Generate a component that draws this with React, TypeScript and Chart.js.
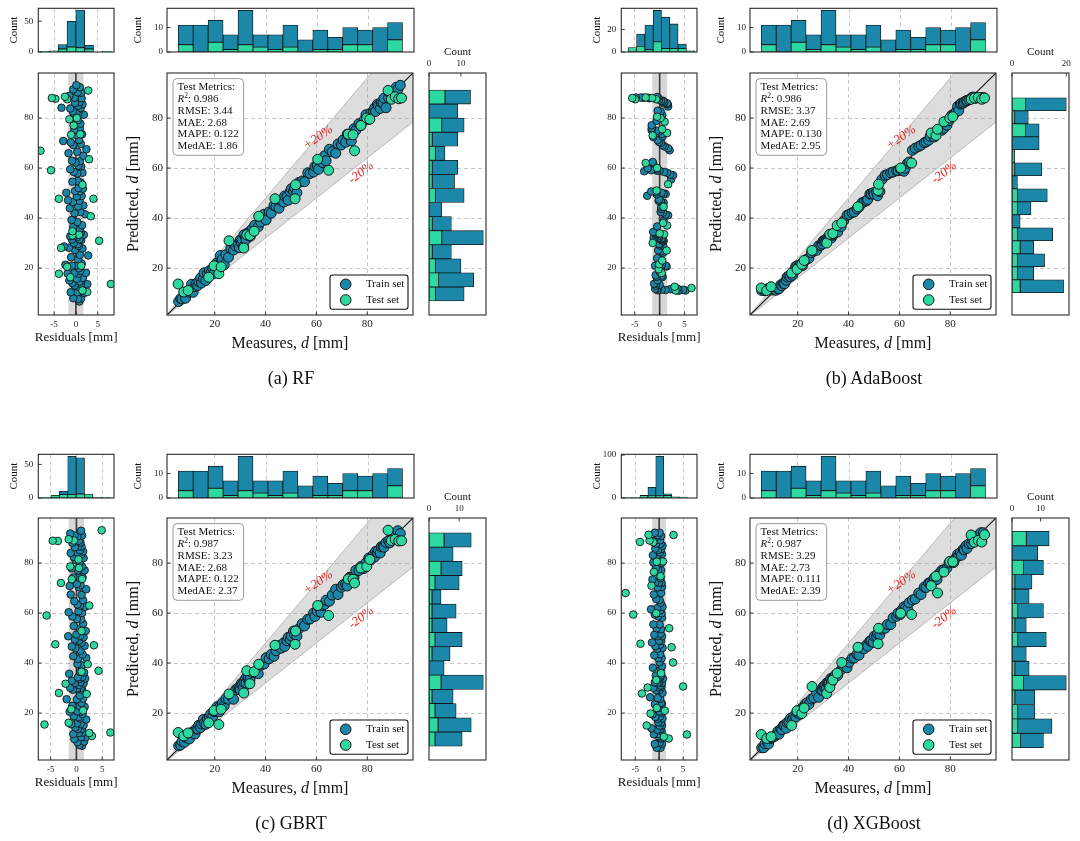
import React, { useEffect, useRef } from 'react';
import { Chart, registerables } from 'chart.js';

Chart.register(...registerables);

// ---------------- data ----------------

const modelNames = ['RF', 'AdaBoost', 'GBRT', 'XGBoost'];
const panelLetters = ['a', 'b', 'c', 'd'];

// metrics printed in the boxes
const r2Values = ['0.986', '0.986', '0.987', '0.987'];
const rmseValues = ['3.44', '3.37', '3.23', '3.29'];
const maeValues = ['2.68', '2.69', '2.68', '2.73'];
const mapeValues = ['0.122', '0.130', '0.122', '0.111'];
const medaeValues = ['1.86', '2.95', '2.37', '2.39'];

// measured d [mm], same split in every panel
const trainMeasured = [
  5.8, 6.6, 7.1, 8.1, 8.5, 9.4, 10.0, 10.9,
  11.5, 12.2, 12.6, 13.3, 13.7, 14.4, 14.8, 15.5, 15.8, 16.5, 17.1,
  17.9, 18.4, 19.2, 19.7, 20.5, 20.9, 21.8, 22.2, 23.0,
  23.7, 24.4, 25.4, 26.3, 27.4, 28.2,
  29.1, 29.7, 30.0, 30.5, 30.7, 31.3, 31.5, 32.1, 32.3, 33.0, 33.2, 33.8, 34.0, 34.7,
  35.7, 37.1, 38.1, 39.4, 40.2,
  41.4, 42.2, 43.3, 44.1, 45.3, 46.1,
  47.1, 47.5, 48.4, 48.9, 49.7, 50.1, 51.0, 51.4, 52.3,
  53.1, 54.4, 55.3, 56.6, 57.5,
  58.9, 59.4, 60.3, 60.8, 61.8, 62.3, 63.2, 63.8,
  65.1, 66.2, 67.6, 68.5, 69.8,
  70.5, 71.5, 72.1, 73.1, 73.7, 74.8, 75.5,
  76.7, 77.5, 78.7, 79.5, 80.6, 81.4,
  82.4, 82.9, 83.3, 84.0, 84.4, 85.1, 85.5, 86.2, 86.6, 87.4,
  88.4, 88.9, 89.9, 90.4, 91.4, 92.0, 93.0,
];
const testMeasured = [
  5.6, 7.8, 9.5, 17.6, 19.7, 21.6, 22.5, 25.6, 31.4, 32.6, 33.8, 35.5, 37.3, 43.7, 51.6,
  51.8, 60.5, 64.8, 72.5, 74.4, 75.0, 77.5, 79.8, 81.0, 88.2, 89.5, 91.0, 92.4, 93.5,
];

// residuals (predicted - measured)
const rfTrainRes = [
  0.8, 1.2, 0.5, 1.9, -0.6, 1.4, 0.3, 2.6,
  -1.2, 0.4, 1.1, -0.3, 0.9, 1.6, -0.8, 0.2, 2.3, -1.5, 0.6,
  1.0, -0.4, 0.7, -1.9, 1.3, 0.1, -0.9, 2.8, 0.5,
  -2.4, 0.9, -1.1, 1.5, -0.2, 0.6,
  0.4, -1.6, 1.2, -0.5, 0.8, -2.7, 1.8, 0.2, -0.9, 1.1, -0.3, 0.7, -1.3, 0.9,
  1.4, -0.6, 0.3, 2.1, -1.0,
  1.0, -0.3, 1.7, 0.5, -1.4, 0.8,
  -0.7, 1.3, 0.2, -1.8, 0.9, 1.6, -0.2, 0.6, -2.2,
  1.1, 0.4, -0.8, 1.5, 0.3,
  -0.5, 1.2, 0.6, -1.3, 0.9, -0.1, 1.7, -0.9,
  2.4, 0.3, -1.7, 1.1, -0.6,
  0.7, -1.2, 1.4, 0.1, -2.9, 0.9, -0.4,
  1.0, -0.5, 0.4, 1.8, -1.1, 0.6,
  0.2, 1.1, -0.7, 1.5, 0.5, -1.3, 0.8, -0.2, 1.3, -3.3,
  -0.3, 1.2, 0.4, -1.5, 0.9, -0.6, 0.1,
];
const rfTestRes = [
  8.0, 2.6, 1.5, -1.3, 1.2, -3.9, -2.0, 5.3, -3.4, 0.7, -0.8, -0.8, 3.4, 4.0, -3.9,
  1.5, 3.0, -5.7, 1.0, -1.1, -8.1, -0.5, 0.2, -1.5, 2.8, -2.0, -2.5, -4.7, -5.5,
];

const adaTrainRes = [
  5.2, 4.7, 3.8, 3.6, 2.9, 2.1, 1.2, 0.4,
  -0.4, -0.5, -0.9, 0.0, -0.8, -0.7, -1.1, -0.4, 0.6, 0.4, -0.6,
  -0.8, 0.0, 1.4, 1.2, 0.4, 0.4, -0.9, 0.2, 0.1,
  -0.1, -0.5, 0.7, 0.4, -0.3, 0.7,
  0.0, -0.1, 0.8, 0.6, 0.4, 0.3, 0.4, -0.2, -0.2, -0.4, -1.2, -0.7, -0.5, -0.6,
  -1.3, -0.5, 0.8, 1.7, 1.2,
  0.7, 0.2, 0.3, 0.3, 0.8, 0.3,
  -0.2, -0.1, 1.2, 0.8, 0.4, -0.6, -0.7, -2.5, -1.7,
  2.3, 2.7, 2.1, 1.5, 0.9,
  0.0, -0.5, -0.7, -1.7, -3.1, -2.4, -1.3, -1.4,
  2.0, 1.7, 1.0, 0.6, 0.3,
  -0.1, -0.4, 0.6, 0.5, -1.3, -0.2, -0.6,
  -1.6, -1.6, -1.6, -0.6, 0.5, 0.0,
  0.2, 1.7, -0.4, 1.6, 1.5, 0.8, 0.9, 0.7, 0.3, -0.1,
  -0.3, -0.5, -2.0, -2.3, -3.3, -3.8, -4.8,
];
const adaTestRes = [
  6.4, 3.2, 3.0, 0.4, -0.2, -0.1, 0.5, 1.4, -1.4, 0.9, 0.0, 1.5, 0.7, 0.8, -0.6,
  1.7, -0.5, -2.8, 1.5, -1.4, 0.5, 1.0, 0.2, -0.5, -0.7, -1.5, -2.8, -4.9, -5.5,
];

const gbrtTrainRes = [
  1.1, 0.6, 1.5, 0.2, 1.8, 0.9, -0.4, 1.3,
  0.5, -0.6, 1.0, 0.3, 1.4, -0.2, 0.8, 1.9, 0.1, -1.0, 0.7,
  0.4, 1.2, -0.5, 0.9, 0.2, 1.6, -1.3, 0.6, 1.0,
  -0.8, 1.3, 0.1, 0.7, -1.9, 1.1,
  0.9, 0.2, -0.7, 1.4, 0.5, -1.2, 0.8, 1.7, -0.3, 0.6, 1.1, -0.9, 0.3, 1.5,
  0.7, -1.4, 1.0, 0.2, 1.9,
  0.3, 1.2, -0.6, 0.8, 1.6, -0.2,
  1.0, -0.9, 0.5, 1.4, -0.3, 0.7, 1.8, 0.0, -1.6,
  0.6, 1.3, -0.5, 0.9, 0.1,
  1.1, -0.8, 0.4, 1.7, -1.5, 0.7, 0.2, 1.3,
  -0.4, 1.0, 1.9, -1.1, 0.5,
  0.8, 0.1, -1.3, 1.2, 0.5, -0.6, 1.6,
  0.3, 1.1, -0.9, 0.6, 1.4, -0.2,
  0.9, -0.5, 1.3, 0.2, 0.7, -1.1, 1.0, 0.4, -0.3, 0.8,
  0.5, -0.8, 1.1, 0.2, -0.4, 0.9, -1.2,
];
const gbrtTestRes = [
  6.6, 3.0, 2.5, -1.5, 1.3, -6.2, -1.0, 2.0, -3.4, 4.3, -2.1, 1.0, 2.2, 3.4, -4.1,
  1.0, 2.5, -5.8, 1.1, -0.9, -3.0, 0.5, -1.2, 0.4, 4.9, -0.5, -1.5, -3.6, -4.6,
];

const xgbTrainRes = [
  0.3, -0.5, 0.6, 0.1, -0.9, 0.4, 0.2, -0.2,
  0.0, 0.5, -1.1, 0.3, -0.4, 0.6, 0.1, -1.6, 0.4, -0.2, 0.7,
  -0.3, 0.2, -0.8, 0.5, 0.1, -1.4, 0.3, -0.1, 0.6,
  0.4, -0.9, 0.2, -0.3, 0.7, -1.9,
  0.1, -0.6, 0.5, -0.2, 0.3, -1.2, 0.6, 0.0, -0.4, 0.8, -0.9, 0.2, -0.1, 0.4,
  -0.7, 0.3, 0.6, -1.3, 0.1,
  0.5, -0.2, 0.2, -1.0, 0.7, -0.4,
  0.2, -0.8, 0.4, 0.0, -1.5, 0.6, -0.3, 0.3, -1.0,
  0.4, -0.5, 0.1, -1.2, 0.6,
  -0.2, 0.5, -0.9, 0.2, 0.7, -0.4, -1.7, 0.3,
  0.1, -0.6, 0.4, -1.1, 0.6,
  -0.3, 0.5, 0.0, -0.8, 0.3, -1.4, 0.2,
  0.4, -0.2, -0.7, 0.5, 0.1, -1.2,
  -0.1, 0.6, -0.5, 0.2, -1.3, 0.4, -0.2, 0.7, -0.8, 0.3,
  -0.6, 0.2, -1.1, 0.4, -0.3, 0.1, -0.9,
];
const xgbTestRes = [
  5.8, 2.0, 1.0, -2.6, 1.2, -1.8, -0.5, 5.0, -3.6, -2.4, -0.6, 0.4, 2.9, 2.6, -3.9,
  2.1, -0.6, -5.4, -1.6, 0.3, -7.0, -1.1, 0.8, -0.5, 3.0, -1.2, -2.0, -4.0, -2.2,
];

// top strip: histogram of measured values (same in all panels)
const measBinStart = 5.6;
const measBinWidth = 5.86;
const measTrainCounts = [8, 11, 9, 6, 14, 5, 6, 9, 5, 8, 5, 7, 6, 10, 7];
const measTestCounts = [3, 0, 4, 1, 3, 2, 1, 2, 0, 1, 1, 3, 3, 0, 5];

// right strip: histogram of predictions (bottom to top)
const predBinStart = [6.8, 10.1, 6.7, 6.1];
const predBinWidth = [5.627, 5.2, 5.69, 5.77];
const rfPredTrain = [9, 11, 8, 6, 13, 6, 4, 9, 7, 8, 3, 8, 7, 9, 8];
const rfPredTest = [2, 3, 2, 1, 4, 1, 0, 2, 1, 1, 2, 1, 4, 0, 5];
const adaPredTrain = [16, 6, 10, 5, 13, 3, 5, 11, 2, 10, 0, 10, 5, 5, 15];
const adaPredTest = [3, 2, 2, 3, 2, 0, 2, 2, 0, 1, 1, 0, 5, 1, 5];
const gbrtPredTrain = [9, 11, 7, 7, 14, 5, 6, 9, 5, 8, 3, 8, 7, 8, 9];
const gbrtPredTest = [2, 3, 2, 1, 4, 0, 1, 2, 1, 1, 1, 2, 4, 0, 5];
const xgbPredTrain = [8, 12, 6, 7, 15, 5, 5, 10, 4, 9, 5, 6, 7, 9, 8];
const xgbPredTest = [3, 2, 2, 1, 4, 1, 0, 2, 1, 2, 1, 1, 4, 0, 5];

// top-left strip: histogram of residuals
const resBinStart = [-8.1, -6.3, -6.57, -7.3];
const resBinWidth = [2.02, 1.667, 1.63, 1.65];
const rfResTrain = [0, 0, 7, 42, 61, 6, 0, 0];
const rfResTest = [1, 2, 5, 8, 7, 5, 0, 1];
const adaResTrain = [0, 11, 22, 28, 28, 22, 4, 1];
const adaResTest = [4, 5, 2, 9, 3, 3, 3, 0];
const gbrtResTrain = [0, 0, 5, 57, 54, 0, 0, 0];
const gbrtResTest = [1, 4, 5, 5, 6, 6, 1, 1];
const xgbResTrain = [0, 0, 0, 20, 92, 4, 0, 0];
const xgbResTest = [1, 1, 6, 5, 5, 6, 3, 2];

// half width of the grey band in the residual panels
const residBand = [1.75, 1.5, 1.5, 1.45];

// axis limits and ticks
const mmRange = [1.2, 98];
const mmTicks = [20, 40, 60, 80];
const residRange = [[-8.6, 8.7], [-7.7, 7.5], [-7.4, 7.3], [-7.9, 7.9]];
const residTicks = [-5, 0, 5];
const resCountMax = [71, 38.9, 65.1, 101.9];
const resCountTicks = [[0, 50], [0, 20], [0, 50], [0, 100]];
const predCountMax = [17.85, 21, 18.9, 19.95];
const predCountTicks = [[0, 10], [0, 20], [0, 10], [0, 10]];
const measCountMax = 17.85;
const measCountTicks = [0, 10];

const trainRes = [rfTrainRes, adaTrainRes, gbrtTrainRes, xgbTrainRes];
const testRes = [rfTestRes, adaTestRes, gbrtTestRes, xgbTestRes];
const predTrain = [rfPredTrain, adaPredTrain, gbrtPredTrain, xgbPredTrain];
const predTest = [rfPredTest, adaPredTest, gbrtPredTest, xgbPredTest];
const resTrain = [rfResTrain, adaResTrain, gbrtResTrain, xgbResTrain];
const resTest = [rfResTest, adaResTest, gbrtResTest, xgbResTest];

// ---------------- style ----------------

const SERIF = '"Liberation Serif", "Times New Roman", Times, serif';
const BLUE = '#1b87a9';
const GREEN = '#2ed9a1';
const EDGE = '#141414';
const FRAME = '#2a2a2a';
const TICK_LEN = 3.5;
const PCT_NOTES = [
  { text: '+20%', x: 60.7, y: 72.2, angle: -35 },
  { text: '-20%', x: 77.6, y: 58.1, angle: -38 },
];

// panel (a) geometry: chart area box + canvas margins [left, top, right, bottom]
const PANEL_ORIGINS = [[0, 0], [583, 0], [0, 445.5], [583, 445.5]];
const GEO: any = {
  resHist: { box: { x: 38.3, y: 8.3, w: 76, h: 43.4 }, m: [38.3, 8.3, 5, 5] },
  resScatter: { box: { x: 38.3, y: 72.7, w: 76, h: 242.3 }, m: [38.3, 6, 5, 36] },
  topHist: { box: { x: 166.7, y: 8.3, w: 246.6, h: 43.4 }, m: [50, 8.3, 5, 5] },
  main: { box: { x: 166.7, y: 72.7, w: 246.6, h: 242.3 }, m: [50, 6, 5, 42] },
  sideHist: { box: { x: 429.3, y: 72.7, w: 57.4, h: 242.3 }, m: [5, 34, 5, 5] },
};

// ---------------- helpers ----------------

type Part = { t: string; italic?: boolean; sup?: boolean };

function drawParts(ctx: any, parts: Part[], x: number, y: number, size: number, align: string, color = '#111') {
  const fontOf = (p: Part) => `${p.italic ? 'italic ' : ''}${p.sup ? size * 0.68 : size}px ${SERIF}`;
  let total = 0;
  for (const p of parts) {
    ctx.font = fontOf(p);
    total += ctx.measureText(p.t).width;
  }
  let cx = align === 'center' ? x - total / 2 : x;
  ctx.textAlign = 'left';
  ctx.textBaseline = 'middle';
  ctx.fillStyle = color;
  for (const p of parts) {
    ctx.font = fontOf(p);
    ctx.fillText(p.t, cx, p.sup ? y - size * 0.32 : y);
    cx += ctx.measureText(p.t).width;
  }
}

function drawRotated(ctx: any, parts: Part[], x: number, y: number, size: number) {
  ctx.save();
  ctx.translate(x, y);
  ctx.rotate(-Math.PI / 2);
  drawParts(ctx, parts, 0, 0, size, 'center');
  ctx.restore();
}

function roundRect(ctx: any, x: number, y: number, w: number, h: number, r: number) {
  ctx.beginPath();
  ctx.moveTo(x + r, y);
  ctx.lineTo(x + w - r, y);
  ctx.arcTo(x + w, y, x + w, y + r, r);
  ctx.lineTo(x + w, y + h - r);
  ctx.arcTo(x + w, y + h, x + w - r, y + h, r);
  ctx.lineTo(x + r, y + h);
  ctx.arcTo(x, y + h, x, y + h - r, r);
  ctx.lineTo(x, y + r);
  ctx.arcTo(x, y, x + r, y, r);
  ctx.closePath();
}

// frame, inward ticks and any extra drawing
function decor(opts: { ticks?: string[]; under?: (c: any) => void; over?: (c: any) => void }) {
  return {
    id: 'decor',
    beforeDatasetsDraw(chart: any) {
      if (opts.under) {
        chart.ctx.save();
        opts.under(chart);
        chart.ctx.restore();
      }
    },
    afterDraw(chart: any) {
      const { ctx, chartArea: a, scales } = chart;
      ctx.save();
      ctx.strokeStyle = FRAME;
      ctx.lineWidth = 0.9;
      ctx.beginPath();
      for (const side of opts.ticks || []) {
        if (side === 'left') {
          for (const t of scales.y.ticks) {
            const p = scales.y.getPixelForValue(t.value);
            ctx.moveTo(a.left, p);
            ctx.lineTo(a.left + TICK_LEN, p);
          }
        } else {
          for (const t of scales.x.ticks) {
            const p = scales.x.getPixelForValue(t.value);
            const y0 = side === 'top' ? a.top : a.bottom;
            ctx.moveTo(p, y0);
            ctx.lineTo(p, side === 'top' ? y0 + TICK_LEN : y0 - TICK_LEN);
          }
        }
      }
      ctx.stroke();
      ctx.lineWidth = 1.1;
      ctx.strokeRect(a.left, a.top, a.right - a.left, a.bottom - a.top);
      ctx.restore();
      if (opts.over) {
        ctx.save();
        opts.over(chart);
        ctx.restore();
      }
    },
  };
}

function axis(o: any) {
  return {
    type: 'linear',
    min: o.min,
    max: o.max,
    position: o.position,
    stacked: o.stacked,
    offset: false,
    afterBuildTicks: (ax: any) => {
      ax.ticks = o.ticks.map((v: number) => ({ value: v }));
    },
    afterFit: (ax: any) => {
      if (o.vertical) ax.width = o.size;
      else ax.height = o.size;
      ax.paddingLeft = 0;
      ax.paddingRight = 0;
      ax.paddingTop = 0;
      ax.paddingBottom = 0;
    },
    ticks: {
      display: o.labels,
      font: { family: SERIF, size: o.fontSize || 9 },
      color: '#1a1a1a',
      padding: o.pad ?? 4,
      autoSkip: false,
      maxRotation: 0,
      minRotation: 0,
      callback: (v: any) => String(v),
    },
    grid: o.grid
      ? { color: '#b9b9b9', lineWidth: 0.8, drawTicks: false, offset: false }
      : { display: false, drawTicks: false, offset: false },
    border: { display: false, dash: [4, 3] },
  };
}

function baseOptions(padding: any, scales: any, extra: any = {}) {
  return {
    animation: false,
    responsive: false,
    events: [],
    layout: { padding },
    plugins: { legend: { display: false }, tooltip: { enabled: false } },
    scales,
    ...extra,
  };
}

function barSets(centers: number[], test: number[], train: number[], horizontal: boolean) {
  const pt = (c: number, v: number) => (horizontal ? { x: v, y: c } : { x: c, y: v });
  const common = { borderColor: EDGE, borderWidth: 0.8, borderSkipped: false, barPercentage: 1, categoryPercentage: 1 };
  return [
    { ...common, label: 'Test set', data: centers.map((c, i) => pt(c, test[i])), backgroundColor: GREEN },
    { ...common, label: 'Train set', data: centers.map((c, i) => pt(c, train[i])), backgroundColor: BLUE },
  ];
}

const binCenters = (start: number, width: number, n: number) =>
  Array.from({ length: n }, (_, i) => start + (i + 0.5) * width);

const countTitle = (offset: number) => (c: any) => {
  const a = c.chartArea;
  drawRotated(c.ctx, [{ t: 'Count' }], a.left - offset, (a.top + a.bottom) / 2, 11);
};

// ---------------- chart configs ----------------

function resHistConfig(m: number) {
  const [ml, mt, mr, mb] = GEO.resHist.m;
  const centers = binCenters(resBinStart[m], resBinWidth[m], resTrain[m].length);
  return {
    type: 'bar',
    data: { datasets: barSets(centers, resTest[m], resTrain[m], false) },
    options: baseOptions({ left: 0, top: mt, right: mr, bottom: 0 }, {
      x: axis({ min: residRange[m][0], max: residRange[m][1], ticks: residTicks, size: mb, vertical: false, labels: false, grid: true, stacked: true }),
      y: axis({ min: 0, max: resCountMax[m], ticks: resCountTicks[m], size: ml, vertical: true, labels: true, grid: false, stacked: true, fontSize: 9, pad: 5 }),
    }),
    plugins: [decor({ ticks: ['left'], over: countTitle(24.3) })],
  };
}

function topHistConfig() {
  const [ml, mt, mr, mb] = GEO.topHist.m;
  const centers = binCenters(measBinStart, measBinWidth, measTrainCounts.length);
  return {
    type: 'bar',
    data: { datasets: barSets(centers, measTestCounts, measTrainCounts, false) },
    options: baseOptions({ left: 0, top: mt, right: mr, bottom: 0 }, {
      x: axis({ min: mmRange[0], max: mmRange[1], ticks: mmTicks, size: mb, vertical: false, labels: false, grid: true, stacked: true }),
      y: axis({ min: 0, max: measCountMax, ticks: measCountTicks, size: ml, vertical: true, labels: true, grid: false, stacked: true, fontSize: 9, pad: 4 }),
    }),
    plugins: [decor({ ticks: ['left'], over: countTitle(29.2) })],
  };
}

function sideHistConfig(m: number) {
  const [ml, mt, mr, mb] = GEO.sideHist.m;
  const centers = binCenters(predBinStart[m], predBinWidth[m], predTrain[m].length);
  return {
    type: 'bar',
    data: { datasets: barSets(centers, predTest[m], predTrain[m], true) },
    options: baseOptions({ left: 0, top: 0, right: mr, bottom: mb }, {
      x: axis({ min: 0, max: predCountMax[m], ticks: predCountTicks[m], size: mt, vertical: false, labels: true, grid: false, stacked: true, position: 'top', fontSize: 9, pad: 4 }),
      y: axis({ min: mmRange[0], max: mmRange[1], ticks: mmTicks, size: ml, vertical: true, labels: false, grid: true, stacked: true }),
    }, { indexAxis: 'y' }),
    plugins: [decor({
      ticks: ['top'],
      over: (c: any) => {
        const a = c.chartArea;
        drawParts(c.ctx, [{ t: 'Count' }], (a.left + a.right) / 2, a.top - 21, 11, 'center');
      },
    })],
  };
}

function resScatterConfig(m: number) {
  const [ml, mt, mr, mb] = GEO.resScatter.m;
  const pointStyle = { borderColor: EDGE, borderWidth: 0.9, pointRadius: 3.8 };
  return {
    type: 'scatter',
    data: {
      datasets: [
        { ...pointStyle, label: 'Test set', order: 0, backgroundColor: GREEN,
          data: testMeasured.map((v, i) => ({ x: testRes[m][i], y: v + testRes[m][i] })) },
        { ...pointStyle, label: 'Train set', order: 1, backgroundColor: BLUE,
          data: trainMeasured.map((v, i) => ({ x: trainRes[m][i], y: v + trainRes[m][i] })) },
        { type: 'line', order: 2, data: [{ x: 0, y: 0 }, { x: 0, y: 100 }], borderColor: '#3a3a3a', borderWidth: 1.6, pointRadius: 0, fill: false },
      ],
    },
    options: baseOptions({ left: 0, top: mt, right: mr, bottom: 0 }, {
      x: axis({ min: residRange[m][0], max: residRange[m][1], ticks: residTicks, size: mb, vertical: false, labels: true, grid: true, fontSize: 9, pad: 4 }),
      y: axis({ min: mmRange[0], max: mmRange[1], ticks: mmTicks, size: ml, vertical: true, labels: true, grid: true, fontSize: 9, pad: 5 }),
    }),
    plugins: [decor({
      ticks: ['left', 'bottom'],
      under: (c: any) => {
        const { ctx, chartArea: a, scales: { x } } = c;
        const x0 = x.getPixelForValue(-residBand[m]);
        const x1 = x.getPixelForValue(residBand[m]);
        ctx.fillStyle = 'rgba(140,140,140,0.35)';
        ctx.fillRect(x0, a.top, x1 - x0, a.bottom - a.top);
      },
      over: (c: any) => {
        const a = c.chartArea;
        drawParts(c.ctx, [{ t: 'Residuals [mm]' }], (a.left + a.right) / 2, a.bottom + 23, 13, 'center');
      },
    })],
  };
}

function mainConfig(m: number) {
  const [ml, mt, mr, mb] = GEO.main.m;
  const pointStyle = { borderColor: EDGE, borderWidth: 1, pointRadius: 5 };
  const lineStyle = { type: 'line', pointRadius: 0, borderWidth: 0.8, borderColor: 'rgba(120,120,120,0.55)' };
  const metricLines: Part[][] = [
    [{ t: 'Test Metrics:' }],
    [{ t: 'R', italic: true }, { t: '2', sup: true }, { t: ': ' + r2Values[m] }],
    [{ t: 'RMSE: ' + rmseValues[m] }],
    [{ t: 'MAE: ' + maeValues[m] }],
    [{ t: 'MAPE: ' + mapeValues[m] }],
    [{ t: 'MedAE: ' + medaeValues[m] }],
  ];
  return {
    type: 'scatter',
    data: {
      datasets: [
        { ...pointStyle, label: 'Test set', order: 0, backgroundColor: GREEN,
          data: testMeasured.map((v, i) => ({ x: v, y: v + testRes[m][i] })) },
        { ...pointStyle, label: 'Train set', order: 1, backgroundColor: BLUE,
          data: trainMeasured.map((v, i) => ({ x: v, y: v + trainRes[m][i] })) },
        { type: 'line', order: 2, data: [{ x: 0, y: 0 }, { x: 100, y: 100 }], borderColor: '#111', borderWidth: 1.1, pointRadius: 0, fill: false },
        { ...lineStyle, order: 3, data: [{ x: 0, y: 0 }, { x: 100, y: 120 }], fill: false },
        { ...lineStyle, order: 4, data: [{ x: 0, y: 0 }, { x: 100, y: 80 }], fill: '-1', backgroundColor: 'rgba(150,150,150,0.32)' },
      ],
    },
    options: baseOptions({ left: 0, top: mt, right: mr, bottom: 0 }, {
      x: axis({ min: mmRange[0], max: mmRange[1], ticks: mmTicks, size: mb, vertical: false, labels: true, grid: true, fontSize: 11, pad: 3 }),
      y: axis({ min: mmRange[0], max: mmRange[1], ticks: mmTicks, size: ml, vertical: true, labels: true, grid: true, fontSize: 11, pad: 4 }),
    }),
    plugins: [decor({
      ticks: ['left', 'bottom'],
      over: (c: any) => {
        const { ctx, chartArea: a, scales: { x, y } } = c;
        // +-20 % notes
        for (const n of PCT_NOTES) {
          ctx.save();
          ctx.translate(x.getPixelForValue(n.x), y.getPixelForValue(n.y));
          ctx.rotate((n.angle * Math.PI) / 180);
          ctx.font = `italic 13px ${SERIF}`;
          ctx.fillStyle = '#e3211c';
          ctx.textAlign = 'center';
          ctx.textBaseline = 'middle';
          ctx.fillText(n.text, 0, 0);
          ctx.restore();
        }
        // metrics box
        const bx = a.left + 6;
        const by = a.top + 5.6;
        roundRect(ctx, bx, by, 70.6, 76.7, 4);
        ctx.fillStyle = 'rgba(255,255,255,0.85)';
        ctx.fill();
        ctx.strokeStyle = '#9a9a9a';
        ctx.lineWidth = 1;
        ctx.stroke();
        metricLines.forEach((parts, i) => drawParts(ctx, parts, bx + 4.6, by + 9 + i * 11.7, 11, 'left'));
        // legend
        const lw = 78;
        const lh = 34.3;
        const lx = a.right - 5 - lw;
        const ly = a.bottom - 5.7 - lh;
        roundRect(ctx, lx, ly, lw, lh, 2.5);
        ctx.fillStyle = '#fff';
        ctx.fill();
        ctx.strokeStyle = '#111';
        ctx.lineWidth = 1.1;
        ctx.stroke();
        const entries = [c.data.datasets[1], c.data.datasets[0]];
        entries.forEach((ds: any, i: number) => {
          const cy = ly + 9.3 + i * 15.7;
          ctx.beginPath();
          ctx.arc(lx + 15.7, cy, 5.3, 0, Math.PI * 2);
          ctx.fillStyle = ds.backgroundColor;
          ctx.fill();
          ctx.strokeStyle = EDGE;
          ctx.lineWidth = 1;
          ctx.stroke();
          drawParts(ctx, [{ t: ds.label }], lx + 36, cy, 11, 'left');
        });
        // axis titles
        drawParts(ctx, [{ t: 'Measures, ' }, { t: 'd', italic: true }, { t: ' [mm]' }], (a.left + a.right) / 2, a.bottom + 28.5, 16, 'center');
        drawRotated(ctx, [{ t: 'Predicted, ' }, { t: 'd', italic: true }, { t: ' [mm]' }], a.left - 33.2, (a.top + a.bottom) / 2, 16);
      },
    })],
  };
}

// ---------------- components ----------------

function ChartCanvas({ geo, origin, build }: { geo: any; origin: number[]; build: () => any }) {
  const canvasRef = useRef<HTMLCanvasElement | null>(null);
  const chartRef = useRef<Chart | null>(null);
  const [ml, mt, mr, mb] = geo.m;
  const width = Math.round(geo.box.w + ml + mr);
  const height = Math.round(geo.box.h + mt + mb);

  useEffect(() => {
    if (!canvasRef.current) return;
    if (chartRef.current) chartRef.current.destroy();
    chartRef.current = new Chart(canvasRef.current, build());
    return () => {
      if (chartRef.current) {
        chartRef.current.destroy();
        chartRef.current = null;
      }
    };
  }, []);

  return (
    <canvas
      ref={canvasRef}
      width={width}
      height={height}
      style={{ position: 'absolute', left: origin[0] + geo.box.x - ml, top: origin[1] + geo.box.y - mt, width, height }}
    />
  );
}

function Panel({ m }: { m: number }) {
  const origin = PANEL_ORIGINS[m];
  return (
    <>
      <ChartCanvas geo={GEO.resHist} origin={origin} build={() => resHistConfig(m)} />
      <ChartCanvas geo={GEO.topHist} origin={origin} build={() => topHistConfig()} />
      <ChartCanvas geo={GEO.resScatter} origin={origin} build={() => resScatterConfig(m)} />
      <ChartCanvas geo={GEO.main} origin={origin} build={() => mainConfig(m)} />
      <ChartCanvas geo={GEO.sideHist} origin={origin} build={() => sideHistConfig(m)} />
      <div
        style={{
          position: 'absolute',
          left: origin[0] + 291 - 120,
          top: origin[1] + 377.5 - 10,
          width: 240,
          height: 20,
          lineHeight: '20px',
          textAlign: 'center',
          fontFamily: SERIF,
          fontSize: 18,
          color: '#111',
        }}
      >
        ({panelLetters[m]}) {modelNames[m]}
      </div>
    </>
  );
}

export default function App() {
  return (
    <div style={{ position: 'absolute', left: 0, top: 0, width: 1080, height: 841, background: '#fff', overflow: 'hidden' }}>
      {modelNames.map((_, m) => (
        <Panel key={m} m={m} />
      ))}
    </div>
  );
}
